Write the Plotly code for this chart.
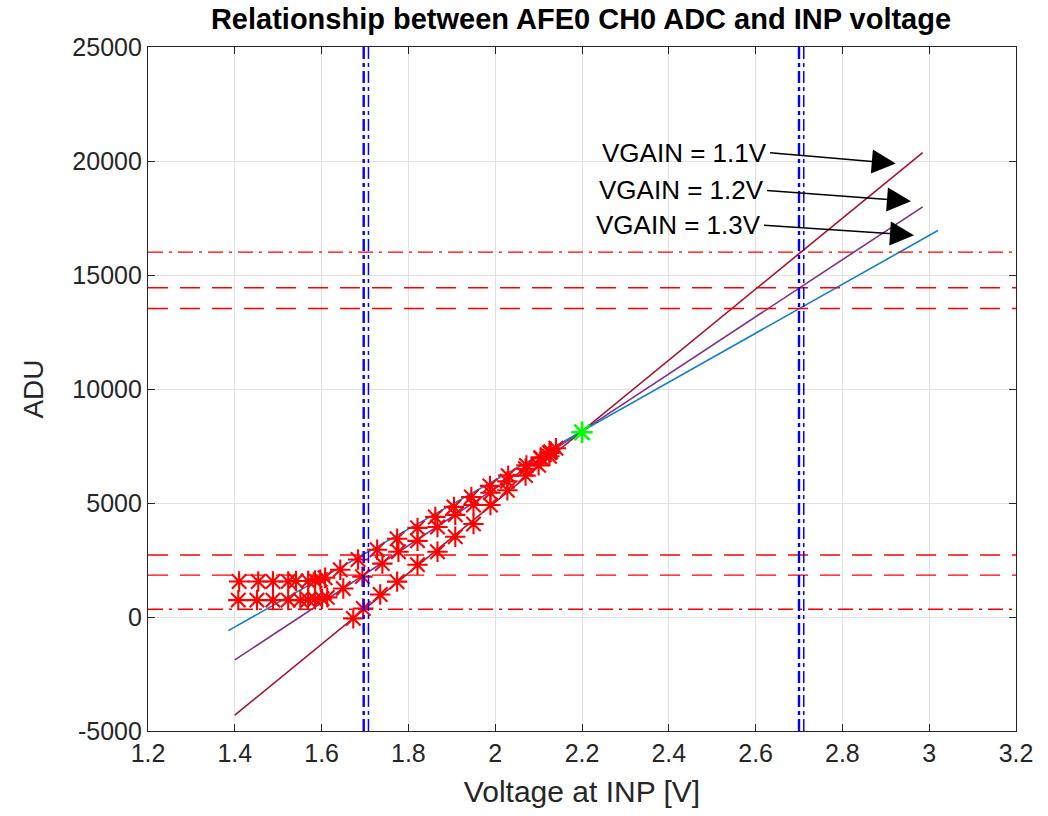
import plotly.graph_objects as go

# ---------------- data ----------------
gain_labels = ["VGAIN = 1.1V", "VGAIN = 1.2V", "VGAIN = 1.3V"]
gain_colors = ["#A2142F", "#7E2F8E", "#1580C4"]
gain_x = [[1.40, 2.985], [1.40, 2.985], [1.385, 3.02]]
gain_y = [[-4306, 20372], [-1879, 17991], [-598, 16952]]

# measured points (red asterisks)
x13 = [1.410, 1.454, 1.488, 1.523, 1.541, 1.569, 1.585, 1.597, 1.608, 1.643, 1.684, 1.728,
       1.774, 1.821, 1.862, 1.905, 1.945, 1.988, 2.030, 2.072, 2.105, 2.125, 2.140]
y13 = [1560, 1560, 1560, 1560, 1580, 1580, 1600, 1640, 1720, 2070, 2520, 2950,
       3430, 3910, 4390, 4830, 5260, 5750, 6200, 6650, 7000, 7200, 7400]
x12 = [1.408, 1.451, 1.488, 1.523, 1.551, 1.569, 1.585, 1.601, 1.613, 1.650, 1.694, 1.740,
       1.777, 1.821, 1.867, 1.908, 1.950, 1.989, 2.028, 2.070, 2.105, 2.128]
y12 = [740, 740, 740, 740, 740, 760, 780, 800, 860, 1250, 1770, 2340,
       2860, 3340, 3950, 4480, 4910, 5450, 5950, 6500, 6950, 7250]
x11 = [1.673, 1.696, 1.735, 1.774, 1.821, 1.867, 1.908, 1.950, 1.989, 2.028, 2.070, 2.100, 2.125]
y11 = [-60, 370, 990, 1550, 2290, 2860, 3520, 4080, 4910, 5560, 6200, 6650, 7050]

# reference point
ref_x = [2.2]
ref_y = [8100]

# horizontal limits
hline_dashdot = [16000, 340]
hline_dashed = [14440, 13530, 2720, 1840]
# vertical limits
vlines = [1.697, 1.708, 2.700, 2.711]

# annotation arrows: tail (text end) and tip
arrow_tail_x = [2.630, 2.623, 2.616]
arrow_tail_y = [20371, 18712, 17183]
arrow_tip_x = [2.923, 2.958, 2.965]
arrow_tip_y = [19891, 18231, 16747]

xticks = [1.2, 1.4, 1.6, 1.8, 2.0, 2.2, 2.4, 2.6, 2.8, 3.0, 3.2]
xticklabels = ["1.2", "1.4", "1.6", "1.8", "2", "2.2", "2.4", "2.6", "2.8", "3", "3.2"]
yticks = [-5000, 0, 5000, 10000, 15000, 20000, 25000]
yticklabels = ["-5000", "0", "5000", "10000", "15000", "20000", "25000"]

FONT = "Liberation Sans, Arial, sans-serif"
TXT = "#262626"

fig = go.Figure()

for xs, ys, c in zip(gain_x, gain_y, gain_colors):
    fig.add_trace(go.Scatter(x=xs, y=ys, mode="lines", line=dict(color=c, width=1.6),
                             showlegend=False, hoverinfo="skip"))

for xs, ys in [(x13, y13), (x12, y12), (x11, y11)]:
    fig.add_trace(go.Scatter(x=xs, y=ys, mode="markers",
                             marker=dict(symbol="asterisk-open", size=17, color="#FF0000",
                                         line=dict(color="#FF0000", width=2.1)),
                             showlegend=False))

fig.add_trace(go.Scatter(x=ref_x, y=ref_y, mode="markers",
                         marker=dict(symbol="asterisk-open", size=18, color="#00FF00",
                                     line=dict(color="#00FF00", width=2.6)),
                         showlegend=False))

for v in hline_dashdot:
    fig.add_hline(y=v, line=dict(color="#FF0000", width=1.3, dash="15px,6px,3px,6px"))
for v in hline_dashed:
    fig.add_hline(y=v, line=dict(color="#FF0000", width=1.3, dash="20px,12px"))
for i, v in enumerate(vlines):
    fig.add_vline(x=v, line=dict(color="#0000FF", width=2.4 if i % 2 == 0 else 1.5,
                                 dash="12px,4px,4px,4px"))

for lab, tx, ty, hx, hy in zip(gain_labels, arrow_tail_x, arrow_tail_y, arrow_tip_x, arrow_tip_y):
    fig.add_annotation(x=tx, y=ty, xref="x", yref="y", text=lab, showarrow=False,
                       xanchor="right", yanchor="middle",
                       font=dict(family=FONT, size=26, color="#000000"))
    fig.add_annotation(x=hx, y=hy, ax=tx, ay=ty, xref="x", yref="y", axref="x", ayref="y",
                       text="", showarrow=True, arrowhead=2, arrowsize=3.2, arrowwidth=1.5,
                       arrowcolor="#000000")

axis_common = dict(showline=True, linecolor=TXT, linewidth=1.2, mirror="ticks",
                   ticks="inside", ticklen=7, tickcolor=TXT, showgrid=True,
                   gridcolor="#E1E1E1", gridwidth=1, zeroline=False,
                   tickfont=dict(family=FONT, size=25, color=TXT))

fig.update_xaxes(range=[1.2, 3.2], tickvals=xticks, ticktext=xticklabels,
                 title=dict(text="Voltage at INP [V]", font=dict(family=FONT, size=30, color=TXT),
                            standoff=14),
                 **axis_common)
fig.update_yaxes(range=[-5000, 25000], tickvals=yticks, ticktext=yticklabels,
                 title=dict(text="ADU", font=dict(family=FONT, size=28, color=TXT), standoff=20),
                 **axis_common)

fig.update_layout(
    width=1048, height=816,
    margin=dict(l=148, r=32, t=47, b=85),
    paper_bgcolor="white", plot_bgcolor="white",
    title=dict(text="<b>Relationship between AFE0 CH0 ADC and INP voltage</b>",
               x=0.5544, xanchor="center", y=0.977, yanchor="middle",
               font=dict(family=FONT, size=29, color="#000000")),
    showlegend=False,
)

fig.write_html("out.html")
